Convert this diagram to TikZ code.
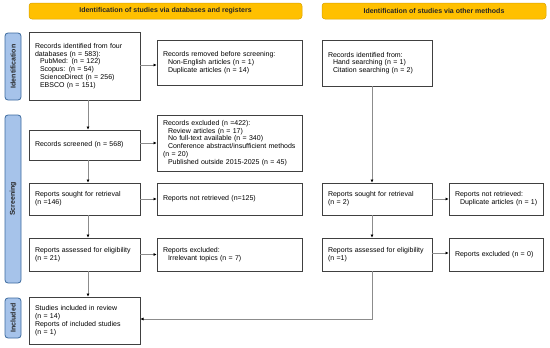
\documentclass[tikz,border=0pt]{standalone}
\usepackage{fontspec}
\setmainfont{Liberation Sans}
\usetikzlibrary{arrows.meta}

\definecolor{headfill}{HTML}{FFC000}
\definecolor{headline}{HTML}{D8A200}
\definecolor{sidefill}{HTML}{A6C3EA}
\definecolor{sideline}{HTML}{3C6A9E}
\definecolor{boxline}{HTML}{404040}
\definecolor{linkgray}{HTML}{8C8C8C}

\begin{document}
\begin{tikzpicture}[x=1pt, y=-1pt,
    head/.style={draw=headline, fill=headfill, rounded corners=3pt,
                 line width=0.5pt, minimum height=16pt, inner sep=0pt,
                 font=\fontsize{7}{8}\selectfont\bfseries, text=black!85},
    phase/.style={draw=sideline, fill=sidefill, rounded corners=3pt,
                  line width=0.8pt, rotate=90, minimum height=16pt, inner sep=0pt,
                  font=\fontsize{7}{8}\selectfont\bfseries, text=black!85},
    box/.style={draw=boxline, line width=0.6pt, align=left, inner xsep=6pt,
                inner ysep=0pt, font=\fontsize{7}{7.8}\selectfont},
    arrow/.style={draw=linkgray, line width=0.6pt,
                  -{Latex[length=3.2pt, width=3pt, color=black]}}
]
\useasboundingbox (0,0) rectangle (550,348);
\newcommand{\ind}{\hspace*{5pt}}

% Headers
\node[head, minimum width=273pt] (hdb) at (165.5,11)
  {Identification of studies via databases and registers};
\node[head, minimum width=224pt] (hot) at (434,11)
  {Identification of studies via other methods};

% Phase labels
\node[phase, minimum width=67pt]  (pid)  at (13,66.5) {Identification};
\node[phase, minimum width=168pt] (pscr) at (13,199)  {Screening};
\node[phase, minimum width=40pt]  (pinc) at (13,318)  {Included};

% Databases and registers
\node[box, text width=99pt, minimum height=68pt] (ident) at (84.5,66)
  {Records identified from four\\ databases (n = 583):\\
   \ind PubMed: (n = 122)\\ \ind Scopus: (n = 54)\\
   \ind ScienceDirect (n = 256)\\ \ind EBSCO (n = 151)};
\node[box, text width=133pt, minimum height=45pt] (removed) at (229.5,62.5)
  {Records removed before screening:\\ \ind Non-English articles (n = 1)\\
   \ind Duplicate articles (n = 14)\\[3pt]};
\node[box, text width=99pt, minimum height=30pt] (screened) at (84.5,145)
  {Records screened (n = 568)};
\node[box, text width=133pt, minimum height=56pt] (excluded) at (229.5,143)
  {Records excluded (n =422):\\ \ind Review articles (n = 17)\\
   \ind No full-text available (n = 340)\\
   \mbox{\ind Conference abstract/insufficient methods}\\ (n = 20)\\
   \ind Published outside 2015-2025 (n = 45)};
\node[box, text width=99pt, minimum height=32pt] (sought) at (84.5,199)
  {Reports sought for retrieval\\ (n =146)};
\node[box, text width=133pt, minimum height=32pt] (notret) at (229.5,199)
  {Reports not retrieved (n=125)};
\node[box, text width=99pt, minimum height=33pt] (assessed) at (84.5,254.5)
  {Reports assessed for eligibility\\ (n = 21)};
\node[box, text width=133pt, minimum height=33pt] (repexcl) at (229.5,254.5)
  {Reports excluded:\\ \ind Irrelevant topics (n = 7)};
\node[box, text width=99pt, minimum height=47pt] (included) at (84.5,320.5)
  {Studies included in review\\ (n = 14)\\ Reports of included studies\\ (n = 1)};

% Other methods
\node[box, text width=98pt, minimum height=46pt] (otherid) at (377,63)
  {Records identified from:\\ \ind Hand searching (n = 1)\\
   \ind Citation searching (n = 2)\\[3pt]};
\node[box, text width=98pt, minimum height=32pt] (osought) at (377,199)
  {Reports sought for retrieval\\ (n = 2)};
\node[box, text width=82pt, minimum height=32pt] (onotret) at (496,199)
  {Reports not retrieved:\\ \mbox{\ind Duplicate articles (n = 1)}};
\node[box, text width=98pt, minimum height=33pt] (oassessed) at (377,254.5)
  {Reports assessed for eligibility\\ (n =1)};
\node[box, text width=82pt, minimum height=33pt] (oexcl) at (496,254.5)
  {Reports excluded (n = 0)\\[7.8pt]};

% Flow, left column
\draw[arrow] ([xshift=3.5pt]ident.south) -- ([xshift=3.5pt]screened.north);
\draw[arrow] ([xshift=3.5pt]screened.south) -- ([xshift=3.5pt]sought.north);
\draw[arrow] ([xshift=3.5pt]sought.south) -- ([xshift=3.5pt]assessed.north);
\draw[arrow] ([xshift=3.5pt]assessed.south) -- ([xshift=3.5pt]included.north);
\draw[arrow] ([yshift=1pt]ident.east) -- ([yshift=1pt]ident.east -| removed.west);
\draw[arrow] (excluded.west -| screened.east) -- (excluded.west);
\draw[arrow] (sought.east) -- (notret.west);
\draw[arrow] (assessed.east) -- (repexcl.west);

% Flow, right column
\draw[arrow] ([xshift=-5pt]otherid.south) -- ([xshift=-5pt]osought.north);
\draw[arrow] ([xshift=-5pt]osought.south) -- ([xshift=-5pt]oassessed.north);
\draw[arrow] (osought.east) -- (onotret.west);
\draw[arrow] ([yshift=1.5pt]oassessed.east) -- ([yshift=1.5pt]oexcl.west);
\draw[arrow] ([xshift=-5pt]oassessed.south) |- ([yshift=1.5pt]included.east);
\end{tikzpicture}
\end{document}
